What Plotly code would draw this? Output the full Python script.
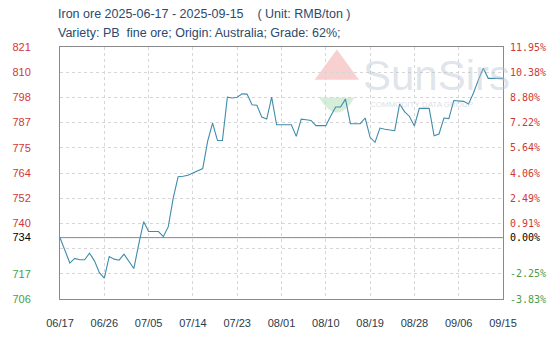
import plotly.graph_objects as go
import pandas as pd

# ---------------- data ----------------
start_date = "2025-06-17"
end_date = "2025-09-15"
prices = [
    734, 728, 722.4, 724.5, 723.9, 723.9, 726.9, 723.4, 718, 715.5,
    725.4, 724.2, 723.7, 726.5, 723.4, 719.9, 731, 741.3, 736.8, 736.8,
    736.8, 734.5, 739, 752, 761.8, 762, 762.5, 763.5, 764.5, 765.5,
    778, 786.3, 778.3, 778.3, 798.1, 797.7, 798.1, 799.6, 799.5, 794.6,
    794.4, 789, 788.1, 798.1, 785.5, 785.5, 785.5, 785.5, 780.2, 788.1,
    787.8, 787.5, 785.1, 785.1, 785.1, 789.5, 793.6, 793.6, 797.2, 786,
    786, 786, 788.6, 779.8, 777.5, 784, 783.5, 783, 782.8, 795,
    791.5, 789.3, 785, 793, 793, 793, 780.5, 781.3, 788.6, 788.3,
    796.6, 796.4, 796.2, 795, 800, 806, 811.3, 806.7, 806.7, 806.7,
    806.7,
]
x_tick_dates = ["2025-06-17", "2025-06-26", "2025-07-05", "2025-07-14", "2025-07-23",
                "2025-08-01", "2025-08-10", "2025-08-19", "2025-08-28", "2025-09-06",
                "2025-09-15"]
x_tick_labels = ["06/17", "06/26", "07/05", "07/14", "07/23", "08/01", "08/10",
                 "08/19", "08/28", "09/06", "09/15"]
left_tick_labels = ["706", "717", "", "740", "752", "764", "775", "787", "798", "810", "821"]
right_tick_labels = ["-3.83%", "-2.25%", "", "0.91%", "2.49%", "4.06%", "5.64%",
                     "7.22%", "8.80%", "10.38%", "11.95%"]
base_label_left = "734"
base_label_right = "0.00%"
y_min, y_max = 706, 821
title_line1 = "Iron ore 2025-06-17 - 2025-09-15 &nbsp;&nbsp;&nbsp;( Unit: RMB/ton )"
title_line2 = "Variety: PB &nbsp;fine ore; Origin: Australia; Grade: 62%;"

# ---------------- build ----------------
dates = pd.date_range(start_date, end_date, freq="D")
base = prices[0]
n_ticks = len(left_tick_labels)
tick_vals = [y_min + i * (y_max - y_min) / (n_ticks - 1) for i in range(n_ticks)]

RED = "#d0383a"
GREEN = "#4a9e4a"
BLACK = "#000000"

def colored(labels, vals):
    out = []
    for lab, v in zip(labels, vals):
        c = RED if v > base else GREEN
        out.append(f"<span style='color:{c}'>{lab}</span>" if lab else "")
    return out

lt_vals = tick_vals + [base]
lt_text = colored(left_tick_labels, tick_vals) + [f"<span style='color:{BLACK}'>{base_label_left}</span>"]
rt_text = colored(right_tick_labels, tick_vals) + [f"<span style='color:{BLACK}'>{base_label_right}</span>"]

fig = go.Figure()
# base (zero) reference line
fig.add_trace(go.Scatter(x=[dates[0], dates[-1]], y=[base, base], mode="lines",
                         line=dict(color="#8a8a8a", width=1),
                         hoverinfo="skip", showlegend=False))
fig.add_trace(go.Scatter(x=dates, y=prices, mode="lines",
                         line=dict(color="#3f8cab", width=1.1),
                         hoverinfo="skip", showlegend=False))
# invisible trace for right axis
fig.add_trace(go.Scatter(x=[dates[0]], y=[base], yaxis="y2", mode="markers",
                         marker=dict(opacity=0), hoverinfo="skip", showlegend=False))

grid = "#d6d6d6"
fig.update_layout(
    width=558, height=343,
    margin=dict(l=59, r=49, t=47, b=44),
    paper_bgcolor="white", plot_bgcolor="white",
    font=dict(family="Liberation Sans, Arial, sans-serif", size=11, color="#333"),
    xaxis=dict(
        type="date", range=[dates[0], dates[-1]],
        tickvals=x_tick_dates, ticktext=x_tick_labels,
        showgrid=True, gridcolor=grid, griddash="dot", gridwidth=1,
        showline=True, linecolor="#8a8a8a", linewidth=1, mirror=True,
        ticks="", ticklabelstandoff=14,
        tickfont=dict(family="Liberation Sans, Arial, sans-serif", size=11, color="#2a3a4a"),
        zeroline=False,
    ),
    yaxis=dict(
        range=[y_min, y_max], tickvals=lt_vals, ticktext=lt_text,
        showgrid=True, gridcolor=grid, griddash="dot", gridwidth=1,
        showline=True, linecolor="#8a8a8a", linewidth=1, mirror=True,
        ticks="", ticklabelstandoff=26, zeroline=False,
        tickfont=dict(family="Liberation Sans, Arial, sans-serif", size=11),
    ),
    yaxis2=dict(
        range=[y_min, y_max], overlaying="y", side="right",
        tickvals=lt_vals, ticktext=rt_text, showgrid=False,
        ticks="", ticklabelstandoff=6, zeroline=False, showline=False,
        tickfont=dict(family="DejaVu Sans Mono, monospace", size=10),
    ),
)

# watermark
fig.add_shape(type="path", xref="paper", yref="paper",
              path="M 0.575 0.87 L 0.625 0.99 L 0.675 0.87 Z",
              fillcolor="rgba(235,120,120,0.35)", line=dict(width=0), layer="below")
fig.add_shape(type="path", xref="paper", yref="paper",
              path="M 0.585 0.80 Q 0.625 0.68 0.665 0.80 Z",
              fillcolor="rgba(120,200,130,0.30)", line=dict(width=0), layer="below")
fig.add_annotation(text="SunSirs", xref="paper", yref="paper", x=0.68, y=0.885,
                   xanchor="left", yanchor="middle", showarrow=False,
                   font=dict(family="Liberation Sans Narrow, Liberation Sans, Arial", size=42,
                             color="rgba(185,195,210,0.45)"))
fig.add_annotation(text="COMMODITY DATA GROUP", xref="paper", yref="paper", x=0.695, y=0.77,
                   xanchor="left", yanchor="middle", showarrow=False,
                   font=dict(family="Liberation Sans, Arial", size=8, color="rgba(180,190,205,0.5)"))

# titles
fig.add_annotation(text=title_line1, xref="paper", yref="paper", x=-0.009, y=1.0,
                   yshift=33, xanchor="left", yanchor="middle", showarrow=False,
                   font=dict(family="Liberation Sans, Arial, sans-serif", size=12.5, color="#2b4a6e"))
fig.add_annotation(text=title_line2, xref="paper", yref="paper", x=-0.009, y=1.0,
                   yshift=14, xanchor="left", yanchor="middle", showarrow=False,
                   font=dict(family="Liberation Sans, Arial, sans-serif", size=12.5, color="#2b4a6e"))

fig.write_html("out.html")
